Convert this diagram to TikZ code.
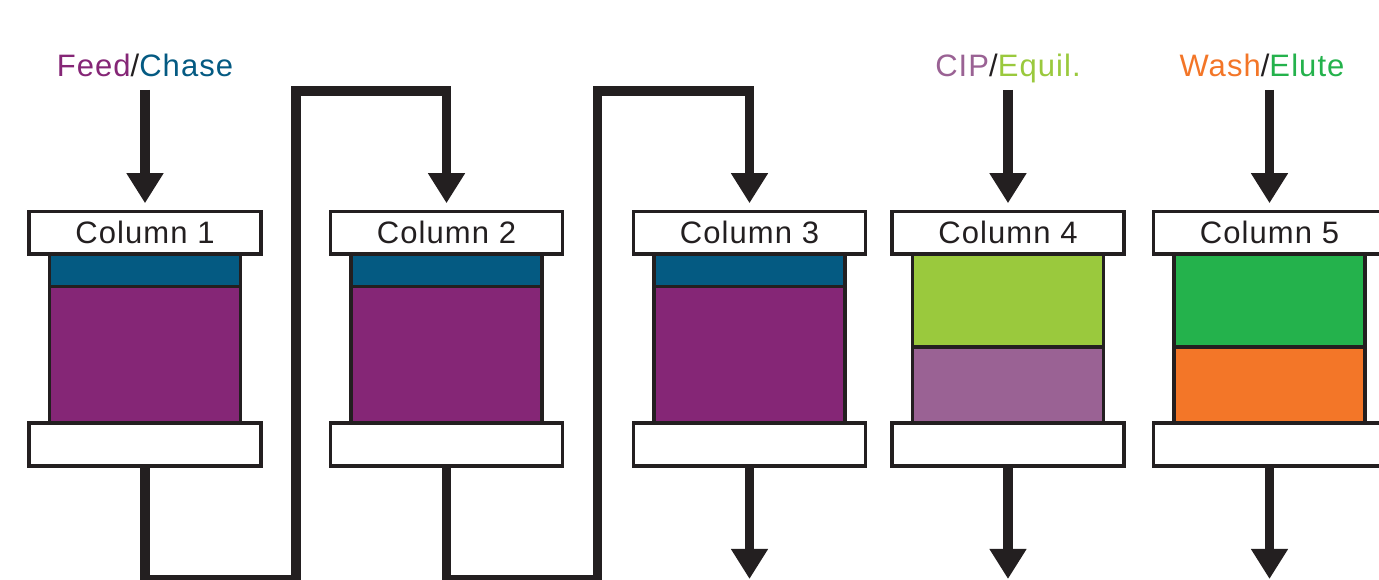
\documentclass[tikz,border=0pt]{standalone}
\usepackage{fontspec}
\setmainfont[LetterSpace=3.5]{Liberation Sans}
\usetikzlibrary{arrows.meta}

\definecolor{ink}{HTML}{231F20}
\definecolor{feed}{HTML}{852676}
\definecolor{chase}{HTML}{045A82}
\definecolor{cip}{HTML}{9A6294}
\definecolor{equil}{HTML}{9AC93D}
\definecolor{wash}{HTML}{F37628}
\definecolor{elute}{HTML}{24B24C}

\begin{document}
\begin{tikzpicture}[x=1pt,y=1pt,
  every node/.style={font=\fontsize{31}{37}\selectfont, text=ink},
  box/.style={draw=ink, line width=3.5pt, fill=white, minimum width=232pt,
              inner sep=0pt, line join=miter},
  hdbox/.style={box, minimum height=42.5pt},
  ftbox/.style={box, minimum height=43pt},
  bed/.style={draw=ink, line width=3.5pt, minimum width=191pt, inner sep=0pt,
              line join=miter},
  flow/.style={draw=ink, line width=9.5pt, line join=miter},
  flowtip/.style={flow, -{Triangle[width=35pt,length=30pt]}},
  gap/.style={shorten >=6.5pt},
]
\clip (0,0) rectangle (1379,580);

% --- column beds -------------------------------------------------------
\foreach \i/\x in {1/145, 2/446.5, 3/749.5} {
  \node[bed, fill=feed,  minimum height=136.5pt] (dn\i) at (\x,225.25) {};
  \node[bed, fill=chase, minimum height=32.5pt]  (up\i) at (\x,309.75) {};
}
\node[bed, fill=cip,   minimum height=76pt] (dn4) at (1008,195) {};
\node[bed, fill=equil, minimum height=93pt] (up4) at (1008,279.5) {};
\node[bed, fill=wash,  minimum height=76pt] (dn5) at (1269.5,195) {};
\node[bed, fill=elute, minimum height=93pt] (up5) at (1269.5,279.5) {};

% --- column heads and feet ---------------------------------------------
\foreach \i/\x in {1/145, 2/446.5, 3/749.5, 4/1008, 5/1269.5} {
  \node[hdbox] (hd\i) at (\x,347.25) {Column \i};
  \node[ftbox] (ft\i) at (\x,135.5) {};
}

% --- inlet labels --------------------------------------------------------
\node[anchor=base] (lab1) at (145,503)
  {\textcolor{feed}{Feed}/\textcolor{chase}{Chase}};
\node[anchor=base] (lab4) at (1008,503)
  {\textcolor{cip}{CIP}/\textcolor{equil}{Equil.}};
\node[anchor=base] (lab5) at (1262,503)
  {\textcolor{wash}{Wash}/\textcolor{elute}{Elute}};

% --- inlet arrows ------------------------------------------------------
\coordinate (in1) at (145,490);
\coordinate (in4) at (1008,490);
\coordinate (in5) at (1269.5,490);
\draw[flowtip, gap] (in1) -- (hd1.north);
\draw[flowtip, gap] (in4) -- (hd4.north);
\draw[flowtip, gap] (in5) -- (hd5.north);

% --- serial connections between columns --------------------------------
\coordinate (p1a) at (296,0.3);
\coordinate (p1b) at (296,489);
\coordinate (p2a) at (597.7,0.3);
\coordinate (p2b) at (597.7,489);
\draw[flowtip, gap] (ft1.south) |- (p1a) -- (p1b) -| (hd2.north);
\draw[flowtip, gap] (ft2.south) |- (p2a) -- (p2b) -| (hd3.north);

% --- outlet arrows ------------------------------------------------------
\coordinate (out3) at (749.5,1);
\coordinate (out4) at (1008,1);
\coordinate (out5) at (1269.5,1);
\draw[flowtip] (ft3.south) -- (out3);
\draw[flowtip] (ft4.south) -- (out4);
\draw[flowtip] (ft5.south) -- (out5);
\end{tikzpicture}
\end{document}
